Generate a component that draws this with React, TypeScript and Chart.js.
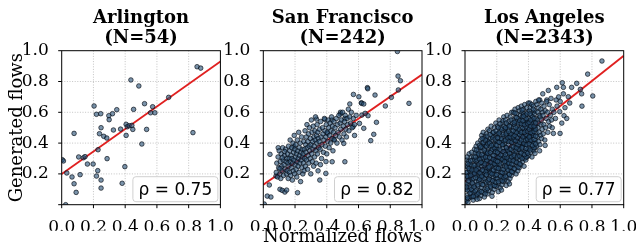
import React, { useEffect, useRef } from 'react';
import { Chart, registerables } from 'chart.js';

Chart.register(...registerables);

// ---------------- data ----------------
const cityNames = ['Arlington', 'San Francisco', 'Los Angeles'];
const sampleSizes = [54, 242, 2343];
const rhoLabels = ['0.75', '0.82', '0.77'];
const fitIntercepts = [0.2, 0.13, 0.151];
const fitSlopes = [0.73, 0.715, 0.816];
const tickValues = [0, 0.2, 0.4, 0.6, 0.8, 1.0];
const xAxisLabel = 'Normalized flows';
const yAxisLabel = 'Generated flows';

const arlingtonPoints: [number, number][] = [
  [0.853, 0.896], [0.876, 0.887], [0.436, 0.81], [0.486, 0.771], [0.674, 0.697], [0.204, 0.641],
  [0.219, 0.587], [0.246, 0.591], [0.347, 0.617], [0.32, 0.591], [0.297, 0.578], [0.299, 0.552],
  [0.453, 0.619], [0.522, 0.656], [0.573, 0.636], [0.56, 0.597], [0.587, 0.597], [0.248, 0.5],
  [0.078, 0.463], [0.265, 0.444], [0.284, 0.433], [0.238, 0.461], [0.326, 0.485], [0.371, 0.491],
  [0.406, 0.522], [0.413, 0.506], [0.425, 0.513], [0.442, 0.515], [0.448, 0.489], [0.406, 0.45],
  [0.535, 0.489], [0.505, 0.394], [0.827, 0.468], [0.229, 0.357], [0.107, 0.31], [0.137, 0.305],
  [0.147, 0.312], [0.162, 0.264], [0.198, 0.264], [0.286, 0.299], [0.398, 0.247], [0.004, 0.292],
  [0.011, 0.284], [0.032, 0.206], [0.116, 0.195], [0.065, 0.18], [0.219, 0.186], [0.227, 0.221],
  [0.248, 0.16], [0.078, 0.136], [0.248, 0.108], [0.091, 0.08], [0.381, 0.139], [0.025, 0.0],
];

const sanFranciscoPoints: [number, number][] = [
  [0.845, 0.995], [0.849, 0.835], [0.864, 0.805], [0.918, 0.658], [0.851, 0.745], [0.807, 0.697],
  [0.769, 0.641], [0.704, 0.712], [0.656, 0.76], [0.658, 0.753], [0.618, 0.662], [0.568, 0.716],
  [0.602, 0.701], [0.62, 0.658], [0.633, 0.654], [0.66, 0.578], [0.713, 0.535], [0.545, 0.654],
  [0.696, 0.457], [0.677, 0.416], [0.633, 0.496], [0.621, 0.582], [0.642, 0.593], [0.606, 0.528],
  [0.566, 0.506], [0.514, 0.56], [0.486, 0.6], [0.486, 0.589], [0.432, 0.55], [0.388, 0.554],
  [0.335, 0.556], [0.403, 0.463], [0.444, 0.424], [0.507, 0.398], [0.514, 0.279], [0.434, 0.279],
  [0.394, 0.203], [0.356, 0.16], [0.216, 0.078], [0.105, 0.1], [0.119, 0.093], [0.136, 0.082],
  [0.147, 0.095], [0.038, 0.128], [0.025, 0.056], [0.048, 0.05], [0.006, 0.004], [0.042, 0.327],
  [0.094, 0.37], [0.08, 0.186], [0.193, 0.377], [0.575, 0.45],
  [0.082, 0.21], [0.085, 0.27], [0.09, 0.18], [0.093, 0.31], [0.097, 0.24], [0.1, 0.35], [0.104, 0.2],
  [0.107, 0.28], [0.11, 0.17], [0.113, 0.33], [0.116, 0.25], [0.119, 0.22], [0.122, 0.37], [0.125, 0.29],
  [0.128, 0.19], [0.131, 0.26], [0.134, 0.32], [0.137, 0.23], [0.14, 0.36], [0.143, 0.28], [0.146, 0.2],
  [0.149, 0.3], [0.12, 0.305], [0.135, 0.345], [0.105, 0.235],
  [0.151, 0.22], [0.153, 0.33], [0.155, 0.27], [0.157, 0.17], [0.159, 0.38], [0.161, 0.25], [0.163, 0.3],
  [0.165, 0.21], [0.167, 0.35], [0.169, 0.42], [0.171, 0.28], [0.173, 0.19], [0.175, 0.32], [0.177, 0.24],
  [0.179, 0.37], [0.181, 0.3], [0.183, 0.16], [0.185, 0.27], [0.187, 0.4], [0.189, 0.22], [0.191, 0.34],
  [0.193, 0.29], [0.195, 0.45], [0.197, 0.2], [0.199, 0.36], [0.201, 0.26], [0.203, 0.31], [0.205, 0.39],
  [0.207, 0.23], [0.209, 0.33], [0.211, 0.18], [0.213, 0.28], [0.215, 0.42], [0.217, 0.35], [0.219, 0.25],
  [0.221, 0.3], [0.223, 0.47], [0.225, 0.21], [0.227, 0.37], [0.229, 0.32], [0.231, 0.27], [0.233, 0.4],
  [0.235, 0.15], [0.237, 0.34], [0.239, 0.29], [0.241, 0.44], [0.243, 0.24], [0.245, 0.36], [0.247, 0.31],
  [0.249, 0.2],
  [0.251, 0.33], [0.253, 0.27], [0.255, 0.41], [0.257, 0.22], [0.259, 0.36], [0.261, 0.3], [0.263, 0.48],
  [0.265, 0.25], [0.267, 0.39], [0.269, 0.34], [0.271, 0.44], [0.273, 0.29], [0.275, 0.52], [0.277, 0.37],
  [0.279, 0.23], [0.281, 0.41], [0.283, 0.32], [0.285, 0.46], [0.287, 0.27], [0.289, 0.38], [0.291, 0.5],
  [0.293, 0.35], [0.295, 0.3], [0.297, 0.43], [0.299, 0.2], [0.301, 0.39], [0.303, 0.55], [0.305, 0.33],
  [0.307, 0.47], [0.309, 0.28], [0.311, 0.41], [0.313, 0.36], [0.315, 0.51], [0.317, 0.25], [0.319, 0.44],
  [0.321, 0.38], [0.323, 0.31], [0.325, 0.48], [0.327, 0.42], [0.329, 0.57], [0.331, 0.35], [0.333, 0.27],
  [0.335, 0.45], [0.337, 0.4], [0.339, 0.52], [0.341, 0.33], [0.343, 0.47], [0.345, 0.22], [0.347, 0.43],
  [0.349, 0.37],
  [0.352, 0.41], [0.355, 0.49], [0.358, 0.36], [0.361, 0.54], [0.364, 0.44], [0.367, 0.3], [0.37, 0.39],
  [0.373, 0.5], [0.376, 0.46], [0.379, 0.34], [0.382, 0.42], [0.385, 0.56], [0.388, 0.48], [0.391, 0.38],
  [0.394, 0.44], [0.397, 0.52], [0.4, 0.33], [0.403, 0.47], [0.406, 0.41], [0.409, 0.55], [0.412, 0.5],
  [0.415, 0.37], [0.418, 0.45], [0.421, 0.53], [0.424, 0.4], [0.427, 0.48], [0.43, 0.57], [0.433, 0.43],
  [0.436, 0.51], [0.439, 0.35], [0.442, 0.47], [0.445, 0.54], [0.448, 0.42], [0.36, 0.26], [0.395, 0.28],
  [0.452, 0.5], [0.456, 0.45], [0.46, 0.56], [0.464, 0.4], [0.468, 0.52], [0.472, 0.47], [0.476, 0.58],
  [0.48, 0.44], [0.484, 0.53], [0.488, 0.49], [0.492, 0.55], [0.496, 0.42], [0.5, 0.6], [0.504, 0.51],
  [0.508, 0.46], [0.512, 0.54], [0.516, 0.58], [0.52, 0.49], [0.524, 0.44], [0.528, 0.56], [0.532, 0.52],
  [0.536, 0.62], [0.54, 0.48], [0.545, 0.57], [0.55, 0.53], [0.555, 0.6], [0.56, 0.5], [0.567, 0.56],
  [0.575, 0.52], [0.585, 0.58],
];

const losAngelesPoints: [number, number][] = [
  [0.005, 0.02], [0.012, 0.06], [0.004, 0.1], [0.018, 0.13], [0.008, 0.17], [0.015, 0.21], [0.003, 0.25],
  [0.011, 0.29], [0.022, 0.04], [0.027, 0.09], [0.031, 0.15], [0.025, 0.19], [0.033, 0.23], [0.029, 0.27],
  [0.038, 0.31], [0.041, 0.07], [0.044, 0.12], [0.036, 0.17], [0.047, 0.2], [0.043, 0.25], [0.048, 0.29],
  [0.006, 0.135], [0.017, 0.245], [0.02, 0.18], [0.035, 0.05], [0.01, 0.03], [0.026, 0.33], [0.045, 0.16],
  [0.014, 0.095], [0.039, 0.21], [0.03, 0.115], [0.007, 0.21], [0.049, 0.09], [0.023, 0.28], [0.042, 0.34],
  [0.019, 0.015], [0.034, 0.26], [0.028, 0.225], [0.046, 0.05], [0.013, 0.31],
  [0.052, 0.03], [0.056, 0.08], [0.061, 0.13], [0.054, 0.17], [0.059, 0.22], [0.063, 0.26], [0.055, 0.31],
  [0.06, 0.36], [0.067, 0.05], [0.072, 0.1], [0.069, 0.15], [0.074, 0.19], [0.066, 0.24], [0.071, 0.28],
  [0.075, 0.33], [0.07, 0.38], [0.079, 0.07], [0.083, 0.12], [0.081, 0.17], [0.086, 0.21], [0.078, 0.25],
  [0.084, 0.3], [0.088, 0.35], [0.08, 0.4], [0.091, 0.04], [0.094, 0.09], [0.097, 0.14], [0.09, 0.18],
  [0.095, 0.23], [0.098, 0.27], [0.092, 0.32], [0.096, 0.37], [0.058, 0.195], [0.077, 0.215], [0.089, 0.265],
  [0.064, 0.335], [0.085, 0.155], [0.099, 0.42], [0.073, 0.065], [0.062, 0.29],
  [0.101, 0.06], [0.104, 0.11], [0.108, 0.16], [0.103, 0.2], [0.107, 0.25], [0.102, 0.3], [0.106, 0.35],
  [0.109, 0.4], [0.105, 0.45], [0.113, 0.08], [0.116, 0.13], [0.112, 0.18], [0.118, 0.22], [0.114, 0.27],
  [0.117, 0.32], [0.111, 0.37], [0.119, 0.43], [0.115, 0.47], [0.122, 0.05], [0.125, 0.1], [0.128, 0.15],
  [0.123, 0.2], [0.127, 0.24], [0.124, 0.29], [0.129, 0.34], [0.121, 0.39], [0.126, 0.44], [0.133, 0.09],
  [0.136, 0.14], [0.132, 0.19], [0.138, 0.23], [0.134, 0.28], [0.137, 0.33], [0.131, 0.38], [0.139, 0.42],
  [0.135, 0.46], [0.142, 0.07], [0.145, 0.12], [0.148, 0.17], [0.143, 0.21], [0.147, 0.26], [0.141, 0.31],
  [0.146, 0.36], [0.149, 0.41], [0.144, 0.49], [0.12, 0.255], [0.13, 0.215], [0.14, 0.345],
  [0.151, 0.09], [0.154, 0.14], [0.158, 0.19], [0.153, 0.23], [0.157, 0.28], [0.152, 0.33], [0.156, 0.38],
  [0.159, 0.43], [0.155, 0.48], [0.163, 0.11], [0.166, 0.16], [0.162, 0.21], [0.168, 0.25], [0.164, 0.3],
  [0.167, 0.35], [0.161, 0.4], [0.169, 0.45], [0.165, 0.51], [0.172, 0.08], [0.175, 0.13], [0.178, 0.18],
  [0.173, 0.22], [0.177, 0.27], [0.174, 0.32], [0.179, 0.37], [0.171, 0.42], [0.176, 0.47], [0.183, 0.1],
  [0.186, 0.15], [0.182, 0.2], [0.188, 0.24], [0.184, 0.29], [0.187, 0.34], [0.181, 0.39], [0.189, 0.44],
  [0.185, 0.5], [0.192, 0.12], [0.195, 0.17], [0.198, 0.22], [0.193, 0.26], [0.197, 0.31], [0.191, 0.36],
  [0.196, 0.41], [0.199, 0.46], [0.194, 0.53], [0.17, 0.055], [0.16, 0.255], [0.19, 0.285],
  [0.201, 0.12], [0.204, 0.17], [0.208, 0.22], [0.203, 0.26], [0.207, 0.31], [0.202, 0.36], [0.206, 0.41],
  [0.209, 0.46], [0.205, 0.51], [0.213, 0.14], [0.216, 0.19], [0.212, 0.24], [0.218, 0.28], [0.214, 0.33],
  [0.217, 0.38], [0.211, 0.43], [0.219, 0.48], [0.215, 0.55], [0.222, 0.11], [0.225, 0.16], [0.228, 0.21],
  [0.223, 0.25], [0.227, 0.3], [0.224, 0.35], [0.229, 0.4], [0.221, 0.45], [0.226, 0.5], [0.233, 0.13],
  [0.236, 0.18], [0.232, 0.23], [0.238, 0.27], [0.234, 0.32], [0.237, 0.37], [0.231, 0.42], [0.239, 0.47],
  [0.235, 0.53], [0.242, 0.15], [0.245, 0.2], [0.248, 0.25], [0.243, 0.29], [0.247, 0.34], [0.241, 0.39],
  [0.246, 0.44], [0.249, 0.49], [0.244, 0.57], [0.21, 0.085], [0.23, 0.095], [0.24, 0.545],
  [0.251, 0.16], [0.254, 0.21], [0.258, 0.26], [0.253, 0.3], [0.257, 0.35], [0.252, 0.4], [0.256, 0.45],
  [0.259, 0.5], [0.255, 0.55], [0.263, 0.18], [0.266, 0.23], [0.262, 0.28], [0.268, 0.32], [0.264, 0.37],
  [0.267, 0.42], [0.261, 0.47], [0.269, 0.52], [0.265, 0.58], [0.272, 0.15], [0.275, 0.2], [0.278, 0.25],
  [0.273, 0.29], [0.277, 0.34], [0.274, 0.39], [0.279, 0.44], [0.271, 0.49], [0.276, 0.54], [0.283, 0.17],
  [0.286, 0.22], [0.282, 0.27], [0.288, 0.31], [0.284, 0.36], [0.287, 0.41], [0.281, 0.46], [0.289, 0.51],
  [0.285, 0.57], [0.292, 0.19], [0.295, 0.24], [0.298, 0.29], [0.293, 0.33], [0.297, 0.38], [0.291, 0.43],
  [0.296, 0.48], [0.299, 0.53], [0.294, 0.6], [0.26, 0.125], [0.28, 0.135],
  [0.301, 0.21], [0.304, 0.26], [0.308, 0.31], [0.303, 0.35], [0.307, 0.4], [0.302, 0.45], [0.306, 0.5],
  [0.309, 0.55], [0.305, 0.6], [0.313, 0.23], [0.316, 0.28], [0.312, 0.33], [0.318, 0.37], [0.314, 0.42],
  [0.317, 0.47], [0.311, 0.52], [0.319, 0.57], [0.315, 0.62], [0.322, 0.2], [0.325, 0.25], [0.328, 0.3],
  [0.323, 0.34], [0.327, 0.39], [0.324, 0.44], [0.329, 0.49], [0.321, 0.54], [0.326, 0.59], [0.333, 0.22],
  [0.336, 0.27], [0.332, 0.32], [0.338, 0.36], [0.334, 0.41], [0.337, 0.46], [0.331, 0.51], [0.339, 0.56],
  [0.335, 0.63], [0.342, 0.24], [0.345, 0.29], [0.348, 0.34], [0.343, 0.38], [0.347, 0.43], [0.341, 0.48],
  [0.346, 0.53], [0.349, 0.58], [0.344, 0.61],
  [0.351, 0.26], [0.354, 0.31], [0.358, 0.36], [0.353, 0.4], [0.357, 0.45], [0.352, 0.5], [0.356, 0.55],
  [0.359, 0.6], [0.355, 0.64], [0.363, 0.28], [0.366, 0.33], [0.362, 0.38], [0.368, 0.42], [0.364, 0.47],
  [0.367, 0.52], [0.361, 0.57], [0.369, 0.62], [0.372, 0.25], [0.375, 0.3], [0.378, 0.35], [0.373, 0.39],
  [0.377, 0.44], [0.374, 0.49], [0.379, 0.54], [0.371, 0.59], [0.376, 0.65], [0.383, 0.29], [0.386, 0.34],
  [0.382, 0.39], [0.388, 0.43], [0.384, 0.48], [0.387, 0.53], [0.381, 0.58], [0.389, 0.63], [0.392, 0.31],
  [0.395, 0.36], [0.398, 0.41], [0.393, 0.45], [0.397, 0.5], [0.391, 0.55], [0.396, 0.6], [0.399, 0.66],
  [0.401, 0.32], [0.404, 0.37], [0.408, 0.42], [0.403, 0.46], [0.407, 0.51], [0.402, 0.56], [0.406, 0.61],
  [0.409, 0.66], [0.413, 0.34], [0.416, 0.39], [0.412, 0.44], [0.418, 0.48], [0.414, 0.53], [0.417, 0.58],
  [0.411, 0.63], [0.422, 0.31], [0.425, 0.36], [0.428, 0.41], [0.423, 0.45], [0.427, 0.5], [0.424, 0.55],
  [0.429, 0.6], [0.421, 0.65], [0.433, 0.35], [0.436, 0.4], [0.432, 0.45], [0.438, 0.49], [0.434, 0.54],
  [0.437, 0.59], [0.431, 0.64], [0.442, 0.37], [0.445, 0.42], [0.448, 0.47], [0.443, 0.51], [0.447, 0.56],
  [0.441, 0.61], [0.446, 0.67],
  [0.452, 0.38], [0.456, 0.44], [0.459, 0.5], [0.454, 0.55], [0.458, 0.6], [0.453, 0.65], [0.463, 0.41],
  [0.467, 0.47], [0.462, 0.53], [0.468, 0.58], [0.464, 0.63], [0.472, 0.39], [0.476, 0.45], [0.479, 0.52],
  [0.474, 0.57], [0.478, 0.62], [0.471, 0.68], [0.483, 0.43], [0.487, 0.49], [0.482, 0.55], [0.488, 0.6],
  [0.484, 0.66], [0.493, 0.46], [0.497, 0.52], [0.492, 0.58], [0.498, 0.64], [0.503, 0.42], [0.507, 0.5],
  [0.512, 0.56], [0.506, 0.61], [0.515, 0.68], [0.522, 0.47], [0.527, 0.54], [0.521, 0.6], [0.533, 0.51],
  [0.538, 0.58], [0.531, 0.65], [0.545, 0.55], [0.55, 0.62], [0.542, 0.69],
  [0.863, 0.933], [0.773, 0.848], [0.704, 0.788], [0.727, 0.749], [0.735, 0.72], [0.737, 0.64],
  [0.805, 0.706], [0.613, 0.792], [0.62, 0.762], [0.672, 0.762], [0.651, 0.701], [0.624, 0.578],
  [0.597, 0.604], [0.574, 0.68], [0.525, 0.742], [0.578, 0.762], [0.515, 0.669], [0.557, 0.463],
  [0.599, 0.463], [0.641, 0.56], [0.464, 0.68], [0.441, 0.333], [0.58, 0.64], [0.6, 0.67], [0.56, 0.6],
  [0.61, 0.53], [0.49, 0.72], [0.55, 0.5], [0.57, 0.56], [0.505, 0.385], [0.47, 0.35], [0.59, 0.7],
  [0.63, 0.63], [0.66, 0.66], [0.62, 0.72],
  [0.015, 0.045], [0.032, 0.075], [0.009, 0.115], [0.04, 0.1], [0.021, 0.155], [0.047, 0.14], [0.012, 0.185],
  [0.037, 0.19], [0.025, 0.235], [0.044, 0.225], [0.018, 0.265], [0.036, 0.285],
  [0.053, 0.055], [0.076, 0.035], [0.065, 0.09], [0.087, 0.075], [0.057, 0.115], [0.08, 0.13], [0.068, 0.175],
  [0.093, 0.165], [0.06, 0.205], [0.082, 0.235], [0.07, 0.225], [0.094, 0.205], [0.057, 0.255], [0.076, 0.29],
  [0.093, 0.295], [0.066, 0.31], [0.085, 0.33], [0.072, 0.355], [0.091, 0.385],
  [0.103, 0.085], [0.127, 0.07], [0.11, 0.13], [0.14, 0.105], [0.12, 0.17], [0.145, 0.155], [0.105, 0.185],
  [0.135, 0.195], [0.11, 0.225], [0.145, 0.24], [0.125, 0.265], [0.101, 0.275], [0.138, 0.29], [0.115, 0.305],
  [0.13, 0.31], [0.106, 0.325], [0.142, 0.335], [0.122, 0.355], [0.1, 0.375], [0.136, 0.38], [0.116, 0.405],
  [0.144, 0.395], [0.128, 0.42], [0.108, 0.43], [0.14, 0.445],
  [0.16, 0.12], [0.185, 0.125], [0.153, 0.165], [0.175, 0.155], [0.195, 0.145], [0.16, 0.205], [0.19, 0.19],
  [0.17, 0.2], [0.152, 0.245], [0.18, 0.225], [0.197, 0.24], [0.165, 0.275], [0.185, 0.265], [0.155, 0.305],
  [0.178, 0.295], [0.195, 0.285], [0.16, 0.34], [0.182, 0.32], [0.172, 0.36], [0.193, 0.345], [0.155, 0.4],
  [0.185, 0.37], [0.168, 0.385], [0.195, 0.39], [0.175, 0.435], [0.158, 0.455], [0.19, 0.425], [0.18, 0.47],
  [0.196, 0.48],
  [0.21, 0.15], [0.235, 0.155], [0.2, 0.195], [0.225, 0.185], [0.245, 0.175], [0.21, 0.235], [0.235, 0.21],
  [0.22, 0.265], [0.245, 0.23], [0.205, 0.28], [0.235, 0.295], [0.215, 0.31], [0.25, 0.31], [0.225, 0.325],
  [0.205, 0.34], [0.24, 0.345], [0.22, 0.36], [0.2, 0.385], [0.235, 0.39], [0.215, 0.405], [0.245, 0.415],
  [0.228, 0.43], [0.205, 0.435], [0.24, 0.455], [0.215, 0.465], [0.23, 0.49], [0.21, 0.5], [0.245, 0.51],
  [0.22, 0.525],
  [0.255, 0.185], [0.28, 0.195], [0.27, 0.225], [0.295, 0.215], [0.26, 0.245], [0.285, 0.245], [0.275, 0.27],
  [0.25, 0.28], [0.295, 0.265], [0.265, 0.305], [0.285, 0.29], [0.255, 0.325], [0.28, 0.335], [0.295, 0.31],
  [0.27, 0.355], [0.26, 0.37], [0.29, 0.36], [0.275, 0.41], [0.255, 0.42], [0.295, 0.405], [0.27, 0.435],
  [0.285, 0.44], [0.26, 0.46], [0.29, 0.46], [0.275, 0.475], [0.255, 0.5], [0.28, 0.51], [0.29, 0.55],
  [0.26, 0.53],
  [0.31, 0.235], [0.335, 0.245], [0.305, 0.285], [0.325, 0.275], [0.345, 0.265], [0.31, 0.32], [0.33, 0.31],
  [0.345, 0.315], [0.32, 0.355], [0.305, 0.375], [0.34, 0.36], [0.325, 0.37], [0.31, 0.42], [0.335, 0.39],
  [0.345, 0.405], [0.32, 0.415], [0.305, 0.44], [0.33, 0.435], [0.345, 0.455], [0.315, 0.45], [0.325, 0.47],
  [0.305, 0.48], [0.34, 0.49], [0.32, 0.5], [0.335, 0.53], [0.31, 0.535], [0.345, 0.545], [0.325, 0.565],
  [0.315, 0.595],
  [0.36, 0.3], [0.385, 0.31], [0.355, 0.335], [0.375, 0.325], [0.395, 0.335], [0.36, 0.37], [0.385, 0.365],
  [0.37, 0.4], [0.39, 0.39], [0.355, 0.42], [0.38, 0.42], [0.395, 0.425], [0.365, 0.44], [0.385, 0.455],
  [0.355, 0.47], [0.375, 0.47], [0.395, 0.475], [0.365, 0.5], [0.385, 0.505], [0.355, 0.525], [0.375, 0.52],
  [0.395, 0.525], [0.365, 0.545], [0.385, 0.56], [0.37, 0.575], [0.39, 0.59], [0.36, 0.615],
  [0.41, 0.355], [0.435, 0.37], [0.405, 0.395], [0.425, 0.385], [0.445, 0.395], [0.415, 0.42], [0.435, 0.425],
  [0.405, 0.44], [0.425, 0.465], [0.445, 0.445], [0.415, 0.47], [0.435, 0.475], [0.405, 0.49], [0.425, 0.525],
  [0.445, 0.49], [0.415, 0.51], [0.435, 0.51], [0.405, 0.535], [0.425, 0.57], [0.445, 0.53], [0.415, 0.55],
  [0.435, 0.56], [0.41, 0.59], [0.43, 0.62],
];

const pointSets = [arlingtonPoints, sanFranciscoPoints, losAngelesPoints];

// ---------------- layout ----------------
const W = 636;
const H = 249;
const PANEL_LEFTS = [61.7, 263.3, 465];
const PANEL_W = 158.7;
const PANEL_TOP = 50.7;
const PANEL_BOTTOM = 204.7;
const Y_AXIS_W = 40;
const X_AXIS_H = 26;
const SERIF = '"DejaVu Serif", serif';
const SANS = '"DejaVu Sans", sans-serif';

function decorPlugin(i: number) {
  return {
    id: 'decor' + i,
    beforeDatasetsDraw(chart: any) {
      const { ctx, chartArea: a, scales } = chart;
      const sx = scales.x;
      const sy = scales.y;
      ctx.save();
      ctx.strokeStyle = '#b5b5b5';
      ctx.lineWidth = 0.8;
      ctx.setLineDash([1, 1.6]);
      for (const t of tickValues) {
        if (t <= 0 || t >= 1) continue;
        const px = sx.getPixelForValue(t);
        const py = sy.getPixelForValue(t);
        ctx.beginPath();
        ctx.moveTo(px, a.top);
        ctx.lineTo(px, a.bottom);
        ctx.stroke();
        ctx.beginPath();
        ctx.moveTo(a.left, py);
        ctx.lineTo(a.right, py);
        ctx.stroke();
      }
      ctx.restore();
    },
    afterDatasetsDraw(chart: any) {
      const { ctx, chartArea: a, scales } = chart;
      const sx = scales.x;
      const sy = scales.y;
      ctx.save();
      ctx.strokeStyle = '#000';
      ctx.lineWidth = 1;
      ctx.setLineDash([]);
      ctx.strokeRect(a.left, a.top, a.right - a.left, a.bottom - a.top);
      for (const t of tickValues) {
        const px = sx.getPixelForValue(t);
        const py = sy.getPixelForValue(t);
        ctx.beginPath();
        ctx.moveTo(px, a.bottom);
        ctx.lineTo(px, a.bottom + 3.5);
        ctx.stroke();
        ctx.beginPath();
        ctx.moveTo(a.left, py);
        ctx.lineTo(a.left - 3.5, py);
        ctx.stroke();
      }
      ctx.restore();
    },
    afterDraw(chart: any) {
      const { ctx, chartArea: a } = chart;
      const cx = (a.left + a.right) / 2;
      ctx.save();
      ctx.fillStyle = '#000';
      ctx.textAlign = 'center';
      ctx.textBaseline = 'alphabetic';
      ctx.font = 'bold 18px ' + SERIF;
      ctx.fillText(cityNames[i], cx, 23);
      ctx.fillText('(N=' + sampleSizes[i] + ')', cx, 43);

      const bw = 85;
      const bh = 25;
      const bx = a.right - 2.5 - bw;
      const by = a.bottom - 3 - bh;
      const r = 3;
      ctx.beginPath();
      ctx.moveTo(bx + r, by);
      ctx.lineTo(bx + bw - r, by);
      ctx.arcTo(bx + bw, by, bx + bw, by + r, r);
      ctx.lineTo(bx + bw, by + bh - r);
      ctx.arcTo(bx + bw, by + bh, bx + bw - r, by + bh, r);
      ctx.lineTo(bx + r, by + bh);
      ctx.arcTo(bx, by + bh, bx, by + bh - r, r);
      ctx.lineTo(bx, by + r);
      ctx.arcTo(bx, by, bx + r, by, r);
      ctx.closePath();
      ctx.fillStyle = 'rgba(255,255,255,0.85)';
      ctx.fill();
      ctx.strokeStyle = '#d0d0d0';
      ctx.lineWidth = 1;
      ctx.stroke();
      ctx.fillStyle = '#000';
      ctx.font = '17px ' + SANS;
      ctx.fillText('\u03c1 = ' + rhoLabels[i], bx + bw / 2, by + 18.5);

      if (i === 0) {
        ctx.save();
        ctx.translate(17, (a.top + a.bottom) / 2);
        ctx.rotate(-Math.PI / 2);
        ctx.font = '18px ' + SERIF;
        ctx.textBaseline = 'middle';
        ctx.fillText(yAxisLabel, 0, 0);
        ctx.restore();
      }
      if (i === 1) {
        ctx.font = '18px ' + SERIF;
        ctx.fillText(xAxisLabel, cx, 242);
      }
      ctx.restore();
    },
  };
}

function makeConfig(i: number): any {
  const pts = pointSets[i];
  const left = PANEL_LEFTS[i];
  const right = left + PANEL_W;
  const b0 = fitIntercepts[i];
  const m = fitSlopes[i];
  const tickFont = { family: SERIF, size: 17 };
  return {
    type: 'scatter',
    data: {
      datasets: [
        {
          data: pts.map(([x, y]) => ({ x, y })),
          pointRadius: 2.3,
          pointBorderWidth: 0.75,
          pointBackgroundColor: 'rgba(40,80,118,0.62)',
          pointBorderColor: 'rgba(5,10,20,0.88)',
          pointHoverRadius: 2.3,
          clip: 0,
          order: 0,
        },
        {
          data: [
            { x: 0, y: b0 },
            { x: 1, y: b0 + m },
          ],
          showLine: true,
          borderColor: '#e02020',
          borderWidth: 1.8,
          pointRadius: 0,
          clip: 0,
          order: 1,
        },
      ],
    },
    options: {
      responsive: false,
      animation: false,
      devicePixelRatio: 1,
      events: [],
      layout: {
        padding: {
          left: left - Y_AXIS_W,
          right: W - right,
          top: PANEL_TOP,
          bottom: H - PANEL_BOTTOM - X_AXIS_H,
        },
      },
      plugins: { legend: { display: false }, tooltip: { enabled: false }, title: { display: false } },
      scales: {
        x: {
          type: 'linear',
          min: 0,
          max: 1,
          grid: { display: false },
          border: { display: false },
          ticks: {
            stepSize: 0.2,
            autoSkip: false,
            maxRotation: 0,
            padding: 5,
            color: '#000',
            font: tickFont,
            callback: (v: number) => Number(v).toFixed(1),
          },
          afterFit: (s: any) => {
            s.height = X_AXIS_H;
            s.paddingLeft = 0;
            s.paddingRight = 0;
          },
        },
        y: {
          type: 'linear',
          min: 0,
          max: 1,
          grid: { display: false },
          border: { display: false },
          ticks: {
            stepSize: 0.2,
            autoSkip: false,
            padding: 5,
            color: '#000',
            font: tickFont,
            callback: (v: number) => (v < 0.01 ? '' : Number(v).toFixed(1)),
          },
          afterFit: (s: any) => {
            s.width = Y_AXIS_W;
            s.paddingTop = 0;
            s.paddingBottom = 0;
          },
        },
      },
    },
    plugins: [decorPlugin(i)],
  };
}

export default function App() {
  const r0 = useRef<HTMLCanvasElement>(null);
  const r1 = useRef<HTMLCanvasElement>(null);
  const r2 = useRef<HTMLCanvasElement>(null);
  useEffect(() => {
    const refs = [r0, r1, r2];
    const charts = refs.map((r, i) => new Chart(r.current as HTMLCanvasElement, makeConfig(i)));
    return () => charts.forEach((c) => c.destroy());
  }, []);
  const cs: React.CSSProperties = { position: 'absolute', left: 0, top: 0, width: W, height: H };
  return (
    <div style={{ position: 'fixed', left: 0, top: 0, width: W, height: H, background: '#fff' }}>
      <canvas ref={r0} width={W} height={H} style={cs} />
      <canvas ref={r1} width={W} height={H} style={cs} />
      <canvas ref={r2} width={W} height={H} style={cs} />
    </div>
  );
}
